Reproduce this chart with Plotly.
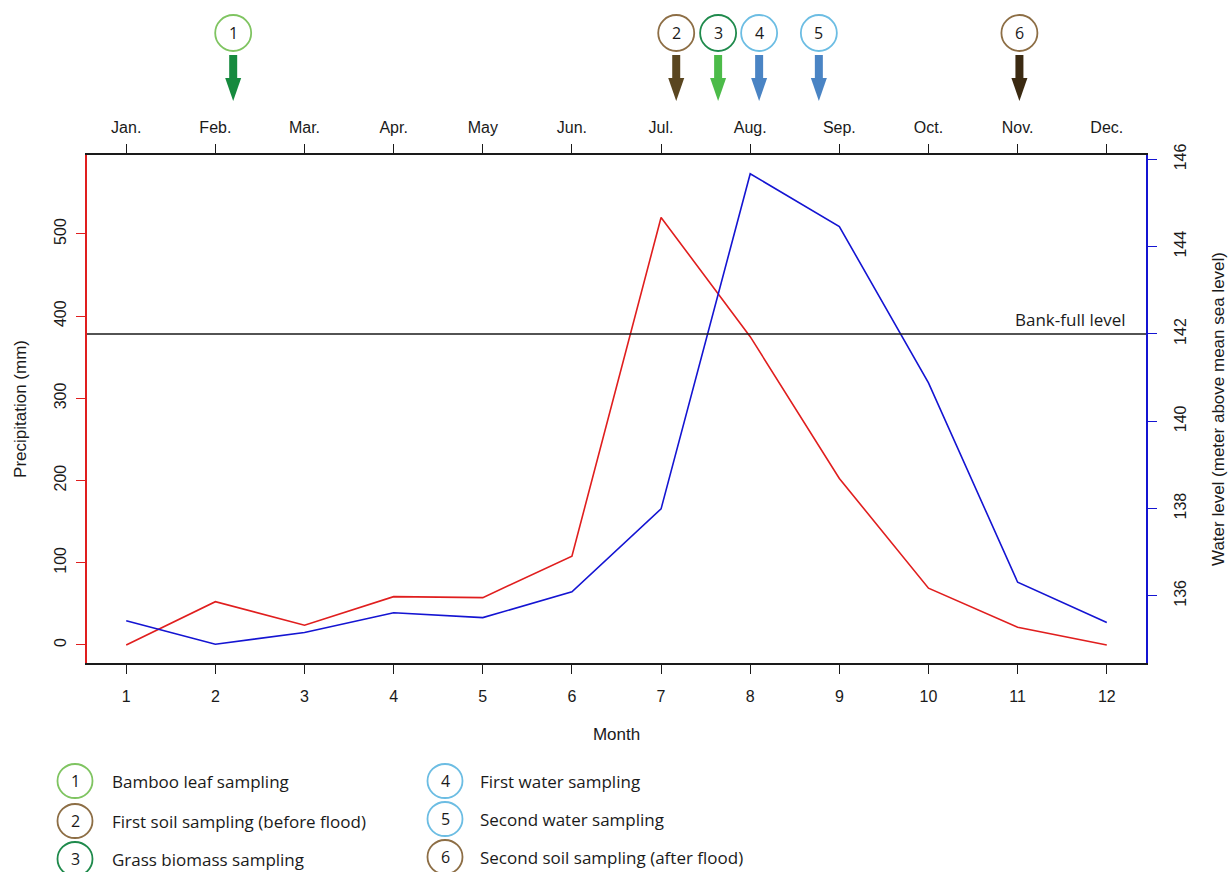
import plotly.graph_objects as go

# ---------------- data ----------------
months = list(range(1, 13))
month_labels = ["Jan.", "Feb.", "Mar.", "Apr.", "May", "Jun.",
                "Jul.", "Aug.", "Sep.", "Oct.", "Nov.", "Dec."]
precip_mm = [0, 52.6, 23.9, 58.7, 57.5, 108, 520, 375, 202.5, 69, 21.5, 0]
water_level = [135.43, 134.89, 135.16, 135.61, 135.50, 136.09,
               137.99, 145.67, 144.46, 140.88, 136.31, 135.39]
bankfull_level = 142

event_ids = ["1", "2", "3", "4", "5", "6"]
event_months = [2.2, 7.17, 7.64, 8.1, 8.77, 11.02]
event_circle_colors = ["#7fc461", "#8d6e45", "#1f8a4c", "#6cbde3", "#6cbde3", "#8d6e45"]
event_arrow_colors = ["#168a3e", "#5a4620", "#4cbb49", "#4a84c4", "#4a84c4", "#3b2a12"]
event_labels = ["Bamboo leaf sampling", "First soil sampling (before flood)",
                "Grass biomass sampling", "First water sampling",
                "Second water sampling", "Second soil sampling (after flood)"]

# ---------------- geometry (layout) ----------------
W, H = 1228, 872
L, R, T, B = 87, 1228 - 1146, 155, 872 - 663
plot_w = W - L - R
plot_h = H - T - B


def px_to_paper_x(px):
    return (px - L) / plot_w


def px_to_paper_y(py):
    return (H - B - py) / plot_h


axis_font = dict(family="Liberation Sans, Arial", size=16, color="#1a1a1a")
title_font = dict(family="Liberation Sans, Arial", size=17, color="#1a1a1a")
leg_font = dict(family="Open Sans", size=17, color="#1a1a1a")
num_font = dict(family="Open Sans", size=16, color="#1a1a1a")

fig = go.Figure()
fig.add_trace(go.Scatter(x=months, y=precip_mm, mode="lines",
                         line=dict(color="#e01e1e", width=1.6),
                         xaxis="x", yaxis="y", showlegend=False))
fig.add_trace(go.Scatter(x=months, y=water_level, mode="lines",
                         line=dict(color="#1414d2", width=1.6),
                         xaxis="x", yaxis="y2", showlegend=False))
# invisible trace to activate the top axis
fig.add_trace(go.Scatter(x=months, y=precip_mm, mode="lines",
                         line=dict(width=0), opacity=0, hoverinfo="skip",
                         xaxis="x2", yaxis="y", showlegend=False))

xr = [0.56, 12.44]
common_x = dict(range=xr, tickvals=months, ticks="outside", ticklen=9,
                tickwidth=1.3, tickcolor="#1a1a1a", showline=True,
                linecolor="#1a1a1a", linewidth=1.5, showgrid=False,
                zeroline=False, tickfont=axis_font, automargin=False)

fig.update_layout(
    width=W, height=H,
    margin=dict(l=L, r=R, t=T, b=B, pad=0, autoexpand=False),
    paper_bgcolor="white", plot_bgcolor="white",
    xaxis=dict(**common_x, ticktext=[str(m) for m in months],
               ticklabelstandoff=9,
               title=dict(text="Month", font=title_font, standoff=24)),
    xaxis2=dict(**common_x, ticktext=month_labels, overlaying="x",
                side="top", matches="x", ticklabelstandoff=5),
    yaxis=dict(range=[-22, 596], tickvals=[0, 100, 200, 300, 400, 500],
               tickangle=-90, ticks="outside", ticklen=9, tickwidth=1.3,
               tickcolor="#e01e1e", showline=True, linecolor="#e01e1e",
               linewidth=1.5, showgrid=False, zeroline=False,
               tickfont=axis_font, ticklabelstandoff=4, automargin=False,
               title=dict(text="Precipitation (mm)", font=title_font,
                          standoff=21)),
    yaxis2=dict(range=[134.46, 146.1], tickvals=[136, 138, 140, 142, 144, 146],
                tickangle=-90, ticks="outside", ticklen=9, tickwidth=1.3,
                tickcolor="#1414d2", showline=True, linecolor="#1414d2",
                linewidth=1.5, showgrid=False, zeroline=False,
                overlaying="y", side="right", tickfont=axis_font,
                ticklabelstandoff=10, automargin=False,
                title=dict(text="Water level (meter above mean sea level)",
                           font=title_font, standoff=25)),
)

shapes = []
annotations = []

# bank-full line
shapes.append(dict(type="line", xref="paper", x0=0, x1=1, yref="y2",
                   y0=bankfull_level, y1=bankfull_level,
                   line=dict(color="#1a1a1a", width=1.5)))
annotations.append(dict(text="Bank-full level", xref="paper",
                        x=px_to_paper_x(1128), xanchor="right",
                        yref="y2", y=bankfull_level, yanchor="bottom",
                        yshift=1, showarrow=False, font=leg_font))

# sampling events on top
circ_y = px_to_paper_y(33)
tip_y = px_to_paper_y(101)
for eid, m, cc, ac in zip(event_ids, event_months, event_circle_colors,
                          event_arrow_colors):
    shapes.append(dict(type="circle", xref="x", yref="paper",
                       xsizemode="pixel", ysizemode="pixel",
                       xanchor=m, yanchor=circ_y, x0=-18, x1=18, y0=-18, y1=18,
                       line=dict(color=cc, width=1.8), fillcolor="white"))
    annotations.append(dict(text=eid, xref="x", x=m, yref="paper", y=circ_y,
                            xanchor="center", yanchor="middle",
                            showarrow=False, font=num_font))
    shapes.append(dict(type="rect", xref="x", yref="paper",
                       xsizemode="pixel", ysizemode="pixel",
                       xanchor=m, yanchor=tip_y, x0=-4, x1=4, y0=22, y1=46,
                       line=dict(width=0), fillcolor=ac))
    shapes.append(dict(type="path", xref="x", yref="paper",
                       xsizemode="pixel", ysizemode="pixel",
                       xanchor=m, yanchor=tip_y,
                       path="M -8,23 L 8,23 L 0,0 Z",
                       line=dict(width=0), fillcolor=ac))

# legend below
leg_pos = [(75, 781, 110), (75, 821, 110), (75, 859, 110),
           (445, 781, 478), (445, 819, 478), (445, 857, 478)]
for eid, lab, cc, (cx, cy, tx) in zip(event_ids, event_labels,
                                      event_circle_colors, leg_pos):
    shapes.append(dict(type="circle", xref="paper", yref="paper",
                       xsizemode="pixel", ysizemode="pixel",
                       xanchor=px_to_paper_x(cx), yanchor=px_to_paper_y(cy),
                       x0=-17.5, x1=17.5, y0=-17, y1=17,
                       line=dict(color=cc, width=1.8), fillcolor="white"))
    annotations.append(dict(text=eid, xref="paper", x=px_to_paper_x(cx),
                            yref="paper", y=px_to_paper_y(cy),
                            xanchor="center", yanchor="middle",
                            showarrow=False, font=num_font))
    annotations.append(dict(text=lab, xref="paper", x=px_to_paper_x(tx),
                            xanchor="left", yref="paper",
                            y=px_to_paper_y(cy), yanchor="middle",
                            showarrow=False, font=leg_font))

fig.update_layout(shapes=shapes, annotations=annotations)
fig.write_html("out.html", config={"displayModeBar": False},
               post_script="document.body.style.margin='0';"
                           "document.body.style.overflow='hidden';")
